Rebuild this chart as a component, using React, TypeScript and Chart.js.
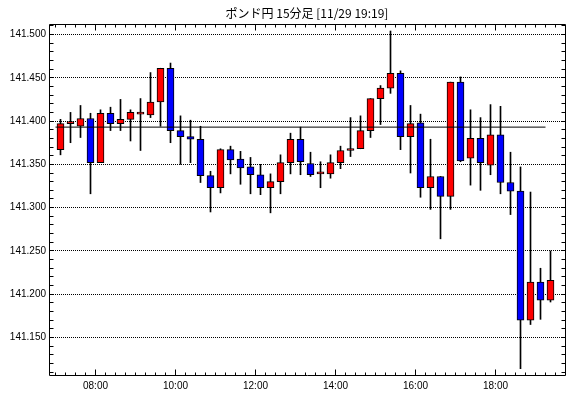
import React, { useEffect, useRef } from "react";
import { Chart, registerables } from "chart.js";

Chart.register(...registerables);

const TITLE = "ポンド円 15分足 [11/29 19:19]";

const times = [
  "07:00", "07:15", "07:30", "07:45", "08:00", "08:15", "08:30", "08:45", "09:00", "09:15",
  "09:30", "09:45", "10:00", "10:15", "10:30", "10:45", "11:00", "11:15", "11:30", "11:45",
  "12:00", "12:15", "12:30", "12:45", "13:00", "13:15", "13:30", "13:45", "14:00", "14:15",
  "14:30", "14:45", "15:00", "15:15", "15:30", "15:45", "16:00", "16:15", "16:30", "16:45",
  "17:00", "17:15", "17:30", "17:45", "18:00", "18:15", "18:30", "18:45", "19:00", "19:15",
];

const opens = [
  141.367, 141.397, 141.394, 141.403, 141.352, 141.409, 141.397, 141.402, 141.408, 141.407,
  141.422, 141.461, 141.389, 141.382, 141.379, 141.337, 141.323, 141.367, 141.356, 141.347,
  141.338, 141.323, 141.330, 141.352, 141.379, 141.351, 141.339, 141.339, 141.352, 141.366,
  141.368, 141.389, 141.426, 141.438, 141.455, 141.382, 141.398, 141.323, 141.336, 141.313,
  141.445, 141.357, 141.380, 141.349, 141.384, 141.329, 141.319, 141.170, 141.214, 141.193,
];

const highs = [
  141.402, 141.410, 141.418, 141.409, 141.413, 141.416, 141.425, 141.413, 141.426, 141.456,
  141.461, 141.467, 141.406, 141.401, 141.394, 141.342, 141.368, 141.371, 141.365, 141.358,
  141.350, 141.339, 141.361, 141.386, 141.393, 141.364, 141.353, 141.361, 141.371, 141.404,
  141.406, 141.426, 141.441, 141.504, 141.458, 141.418, 141.408, 141.379, 141.336, 141.445,
  141.451, 141.413, 141.404, 141.419, 141.417, 141.364, 141.347, 141.318, 141.230, 141.250,
];

const lows = [
  141.361, 141.375, 141.381, 141.316, 141.352, 141.389, 141.389, 141.377, 141.366, 141.404,
  141.394, 141.375, 141.350, 141.352, 141.329, 141.295, 141.317, 141.339, 141.327, 141.316,
  141.315, 141.294, 141.316, 141.339, 141.338, 141.336, 141.323, 141.334, 141.345, 141.359,
  141.368, 141.381, 141.396, 141.432, 141.367, 141.340, 141.312, 141.298, 141.264, 141.298,
  141.353, 141.326, 141.320, 141.338, 141.316, 141.292, 141.114, 141.165, 141.171, 141.191,
];

const closes = [
  141.397, 141.397, 141.403, 141.352, 141.409, 141.397, 141.402, 141.410, 141.408, 141.422,
  141.461, 141.389, 141.382, 141.379, 141.337, 141.323, 141.367, 141.355, 141.346, 141.338,
  141.323, 141.330, 141.352, 141.379, 141.353, 141.338, 141.339, 141.352, 141.366, 141.368,
  141.389, 141.426, 141.438, 141.455, 141.382, 141.397, 141.323, 141.336, 141.313, 141.445,
  141.354, 141.380, 141.352, 141.384, 141.329, 141.319, 141.170, 141.214, 141.193, 141.216,
];

const refLevel = 141.393;

const yTickValues = [141.15, 141.2, 141.25, 141.3, 141.35, 141.4, 141.45, 141.5];
const xTickLabels = ["08:00", "10:00", "12:00", "14:00", "16:00", "18:00"];

const toMin = (t: string) => {
  const [h, m] = t.split(":").map(Number);
  return h * 60 + m;
};
const fmtMin = (v: number) => {
  const h = Math.floor(v / 60);
  const m = Math.round(v % 60);
  return String(h).padStart(2, "0") + ":" + String(m).padStart(2, "0");
};

const BAR_MIN = 15;
const UP = "#ff0000";
const DOWN = "#0000ff";
const LABEL_FONT = { family: "'Liberation Sans', Arial, sans-serif", size: 10 };

const framePlugin = {
  id: "frame",
  afterDraw(chart: any) {
    const { ctx, chartArea: a, scales } = chart;
    const xs = scales.x;
    const ys = scales.y;
    const px = (p: number) => Math.round(p - 0.5) + 0.5;
    const L = px(a.left);
    const R = px(a.right);
    const T = px(a.top);
    const B = px(a.bottom);
    ctx.save();
    ctx.strokeStyle = "#000";
    ctx.lineWidth = 1;
    ctx.beginPath();
    ctx.rect(L, T, R - L, B - T);
    for (let m = toMin(times[0]); xs.getPixelForValue(m) < a.right - 1; m += BAR_MIN) {
      const x = px(xs.getPixelForValue(m));
      const len = m % 120 === 0 ? 6 : 3;
      ctx.moveTo(x, B);
      ctx.lineTo(x, B - len);
      ctx.moveTo(x, T);
      ctx.lineTo(x, T + len);
    }
    for (let k = 11; k <= 51; k++) {
      const v = 141 + k / 100;
      const yp = ys.getPixelForValue(v);
      if (yp < a.top + 1 || yp > a.bottom - 1) continue;
      const y = px(yp);
      ctx.moveTo(L, y);
      ctx.lineTo(L + 4, y);
      ctx.moveTo(R, y);
      ctx.lineTo(R - 4, y);
    }
    ctx.stroke();
    ctx.restore();
  },
};

export default function App() {
  const ref = useRef<HTMLCanvasElement | null>(null);

  useEffect(() => {
    document.body.style.margin = "0";
    const canvas = ref.current;
    if (!canvas) return;
    const xs = times.map((t) => toMin(t) + BAR_MIN / 2);
    const colors = opens.map((o, i) => (closes[i] >= o ? UP : DOWN));

    const chart = new Chart(canvas, {
      type: "bar",
      data: {
        datasets: [
          {
            type: "line",
            label: "ref",
            data: [
              { x: toMin(times[0]), y: refLevel },
              { x: toMin(times[times.length - 1]), y: refLevel },
            ],
            borderColor: "#000",
            borderWidth: 1,
            pointRadius: 0,
            fill: false,
            order: 0,
          } as any,
          {
            type: "bar",
            label: "body",
            data: xs.map((x, i) => ({ x, y: [opens[i], closes[i]] })),
            backgroundColor: colors,
            borderColor: "#000",
            borderWidth: 1,
            borderSkipped: false,
            barThickness: 7,
            minBarLength: 2,
            grouped: false,
            order: 1,
          } as any,
          {
            type: "bar",
            label: "wick",
            data: xs.map((x, i) => ({ x, y: [lows[i], highs[i]] })),
            backgroundColor: "#000",
            borderWidth: 0,
            barThickness: 1,
            grouped: false,
            order: 2,
          } as any,
        ],
      },
      options: {
        animation: false,
        responsive: false,
        events: [],
        layout: { padding: { left: 0, right: 5, top: 0, bottom: 0 } },
        plugins: {
          legend: { display: false },
          tooltip: { enabled: false },
          title: {
            display: true,
            text: TITLE,
            fullSize: false,
            color: "#000",
            font: { family: "'Noto Sans CJK JP', sans-serif", size: 12, weight: "normal" },
            padding: { top: 6, bottom: 3.6 },
          },
        },
        scales: {
          x: {
            type: "linear",
            offset: false,
            min: 410.25,
            max: 1184.25,
            afterBuildTicks: (s: any) => {
              s.ticks = xTickLabels.map((l) => ({ value: toMin(l) }));
            },
            afterFit: (s: any) => {
              s.height = 23;
            },
            ticks: {
              callback: (v: any) => fmtMin(Number(v)),
              color: "#000",
              font: LABEL_FONT,
              padding: 5,
              maxRotation: 0,
              autoSkip: false,
            },
            grid: { display: false, drawTicks: false, offset: false },
            border: { display: false },
          },
          y: {
            type: "linear",
            min: 141.1067,
            max: 141.5121,
            afterBuildTicks: (s: any) => {
              s.ticks = yTickValues.map((v) => ({ value: v }));
            },
            afterFit: (s: any) => {
              s.width = 49;
            },
            ticks: {
              callback: (v: any) => Number(v).toFixed(3),
              color: "#000",
              font: LABEL_FONT,
              padding: 3,
            },
            grid: { color: "#000", lineWidth: 1, drawTicks: false },
            border: { display: false, dash: [1, 1] },
          },
        },
      } as any,
      plugins: [framePlugin],
    });
    return () => chart.destroy();
  }, []);

  return (
    <div style={{ width: 570, height: 398 }}>
      <canvas ref={ref} width={570} height={398} style={{ display: "block" }} />
    </div>
  );
}
